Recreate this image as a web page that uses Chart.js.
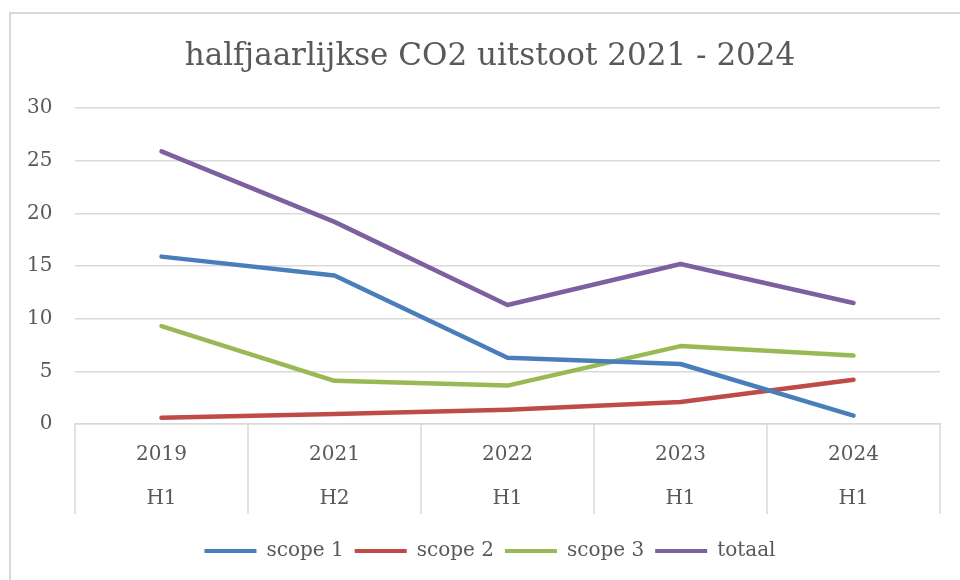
<!DOCTYPE html>
<html>
<head>
<meta charset="utf-8">
<script src="https://cdn.jsdelivr.net/npm/chart.js@4.4.1/dist/chart.umd.min.js"></script>
<style>
    html, body { margin: 0; padding: 0; background: #fff; }
    #wrap { position: relative; width: 960px; height: 580px; overflow: hidden; }
    #frame {
        position: absolute; left: 9px; top: 12px; width: 1000px; height: 1000px;
        border-left: 2px solid #d9d9d9; border-top: 2px solid #d9d9d9;
    }
    #chart { position: absolute; left: 0; top: 0; }
</style>
</head>
<body>
<div id="wrap">
    <div id="frame"></div>
    <canvas id="chart" width="960" height="580"></canvas>
</div>
<script>
// categories: year + half year
const years = ['2019', '2021', '2022', '2023', '2024'];
const halves = ['H1', 'H2', 'H1', 'H1', 'H1'];

// series values
const scope1 = [15.9, 14.1, 6.3, 5.7, 0.8];
const scope2 = [0.6, 0.95, 1.35, 2.1, 4.2];
const scope3 = [9.3, 4.1, 3.65, 7.4, 6.5];
const totaal = [25.9, 19.2, 11.3, 15.2, 11.5];

const yTicks = [0, 5, 10, 15, 20, 25, 30];

const labelColor = '#595959';
const gridColor = '#d9d9d9';
const fontFamily = "'DejaVu Serif', 'Liberation Serif', serif";

function series(label, data, color) {
    return {
        label: label,
        data: data,
        borderColor: color,
        backgroundColor: color,
        borderWidth: 4.5,
        borderCapStyle: 'round',
        borderJoinStyle: 'round',
        pointRadius: 0,
        pointHoverRadius: 0,
        tension: 0
    };
}

// long separators between the categories, below the x axis
const categoryDividers = {
    id: 'categoryDividers',
    beforeDatasetsDraw(chart) {
        const x = chart.scales.x;
        const c = chart.ctx;
        c.save();
        c.strokeStyle = gridColor;
        c.lineWidth = 1.5;
        for (let i = 0; i <= years.length; i++) {
            const px = x.getPixelForValue(i - 0.5);
            c.beginPath();
            c.moveTo(px, x.top);
            c.lineTo(px, x.top + 90);
            c.stroke();
        }
        c.restore();
    }
};

const ctx = document.getElementById('chart').getContext('2d');
new Chart(ctx, {
    type: 'line',
    data: {
        labels: years.map((y, i) => [y, halves[i]]),
        datasets: [
            series('scope 1', scope1, '#4a7ebb'),
            series('scope 2', scope2, '#be4b48'),
            series('scope 3', scope3, '#98b954'),
            series('totaal', totaal, '#7d60a0')
        ]
    },
    plugins: [categoryDividers],
    options: {
        responsive: false,
        animation: false,
        layout: { padding: { left: 40, right: 20, top: 0, bottom: 9 } },
        plugins: {
            title: {
                display: true,
                text: 'halfjaarlijkse CO2 uitstoot 2021 - 2024',
                color: labelColor,
                font: { family: fontFamily, size: 31, weight: 'normal' },
                padding: { top: 38, bottom: 33 }
            },
            legend: {
                position: 'bottom',
                labels: {
                    color: labelColor,
                    font: { family: fontFamily, size: 20, lineHeight: 1 },
                    boxWidth: 52,
                    boxHeight: 4,
                    padding: 11,
                    generateLabels: function (chart) {
                        const items = Chart.defaults.plugins.legend.labels.generateLabels(chart);
                        items.forEach(it => { it.lineWidth = 0; });
                        return items;
                    }
                }
            },
            tooltip: { enabled: false }
        },
        scales: {
            x: {
                offset: true,
                grid: { display: false, drawTicks: false },
                border: { display: true, color: gridColor, width: 1.5 },
                ticks: {
                    color: labelColor,
                    font: { family: fontFamily, size: 20, lineHeight: 2.2 },
                    padding: 9,
                    maxRotation: 0,
                    autoSkip: false
                }
            },
            y: {
                min: 0,
                max: 30,
                afterBuildTicks: function (axis) {
                    axis.ticks = yTicks.map(v => ({ value: v }));
                },
                afterFit: function (axis) {
                    axis.width = 35;
                },
                grid: { color: gridColor, lineWidth: 1.5, drawTicks: false },
                border: { display: false },
                ticks: {
                    color: labelColor,
                    font: { family: fontFamily, size: 20 },
                    mirror: true,
                    crossAlign: 'far',
                    padding: -48
                }
            }
        }
    }
});
</script>
</body>
</html>
